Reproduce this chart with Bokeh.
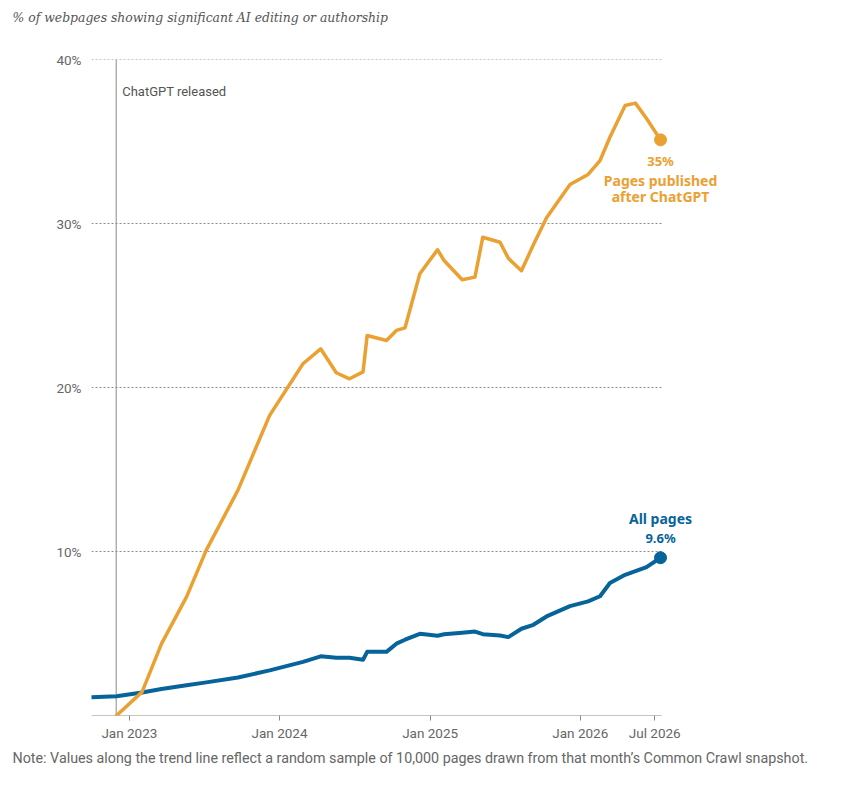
import numpy as np
import pandas as pd
from bokeh.plotting import figure
from bokeh.models import (ColumnDataSource, Range1d, FixedTicker, DatetimeTickFormatter,
                          PrintfTickFormatter, Span, Label, Title)
from bokeh.embed import file_html
from bokeh.resources import INLINE

# ---------------- data ----------------
dates = ["2022-10-01", "2022-12-01", "2023-02-01", "2023-03-20", "2023-05-20", "2023-07-07",
         "2023-09-22", "2023-12-08", "2024-02-27", "2024-04-10", "2024-05-18", "2024-06-19",
         "2024-07-22", "2024-08-01", "2024-09-17", "2024-10-11", "2024-11-01", "2024-12-07",
         "2025-01-19", "2025-02-04", "2025-03-20", "2025-04-20", "2025-05-09", "2025-06-20",
         "2025-07-10", "2025-08-11", "2025-09-09", "2025-10-11", "2025-12-07", "2026-01-20",
         "2026-02-18", "2026-03-14", "2026-04-20", "2026-05-15", "2026-06-11", "2026-07-15"]

all_pages = [1.12, 1.18, 1.40, 1.62, 1.84, 2.02,
             2.32, 2.75, 3.27, 3.61, 3.52, 3.52,
             3.40, 3.88, 3.88, 4.38, 4.62, 4.98,
             4.86, 4.95, 5.04, 5.12, 4.96, 4.88,
             4.78, 5.29, 5.53, 6.04, 6.67, 6.96,
             7.27, 8.08, 8.58, 8.80, 9.05, 9.62]

after_chatgpt = [np.nan, 0.0, 1.44, 4.37, 7.23, 10.08,
                 13.74, 18.30, 21.45, 22.36, 20.90, 20.53,
                 20.95, 23.17, 22.87, 23.48, 23.64, 26.94,
                 28.40, 27.74, 26.57, 26.73, 29.16, 28.86,
                 27.88, 27.12, 28.70, 30.35, 32.38, 32.99,
                 33.84, 35.26, 37.20, 37.34, 36.40, 35.10]

chatgpt_release = "2022-11-30"
x_tick_dates = ["2023-01-01", "2024-01-01", "2025-01-01", "2026-01-01", "2026-07-01"]
y_tick_values = [10, 20, 30, 40]
x_start, x_axis_end = "2022-10-01", "2026-07-18"   # visible axis extent
x_frame_end = "2027-03-15"                          # room on the right for end labels
y_start, y_end = 0, 40

title_text = "% of webpages showing significant AI editing or authorship"
note_text = ("Note: Values along the trend line reflect a random sample of 10,000 pages "
             "drawn from that month\u2019s Common Crawl snapshot.")
series_names = ["Pages published", "after ChatGPT", "All pages"]

ORANGE = "#EBA032"
BLUE = "#07649A"
GRAY_TEXT = "#666666"
GRID = "#8a8a8a"


def ms(d):
    return pd.Timestamp(d).value // 10**6


src = ColumnDataSource(dict(x=pd.to_datetime(dates), all=all_pages, after=after_chatgpt))

W, H = 835, 790
FRAME_L, FRAME_T, FRAME_R, FRAME_B = 91, 59, 760, 715

p = figure(width=W, height=H, x_axis_type="datetime",
           x_range=Range1d(ms(x_start), ms(x_frame_end)), y_range=Range1d(y_start, y_end),
           output_backend="svg", toolbar_location=None,
           min_border_left=FRAME_L, min_border_right=W - FRAME_R,
           min_border_top=FRAME_T, min_border_bottom=H - FRAME_B)
p.outline_line_color = None
p.background_fill_color = "white"
p.border_fill_color = "white"

TICK_FONT_SIZE = "13.5px"

# axes
p.xaxis.ticker = FixedTicker(ticks=[ms(d) for d in x_tick_dates])
fmt = "%b %Y"
p.xaxis.formatter = DatetimeTickFormatter(years=fmt, months=fmt, days=fmt, hours=fmt,
                                          hourmin=fmt, minutes=fmt, minsec=fmt, seconds=fmt,
                                          milliseconds=fmt, microseconds=fmt)
p.xaxis.axis_line_color = None
p.xaxis.major_tick_line_color = GRID
p.xaxis.major_tick_out = 5
p.xaxis.major_tick_in = 0
p.xaxis.minor_tick_line_color = None
p.xaxis.major_label_text_font = "Roboto"
p.xaxis.major_label_text_font_size = TICK_FONT_SIZE
p.xaxis.major_label_text_color = GRAY_TEXT
p.xaxis.major_label_standoff = 4

p.yaxis.ticker = FixedTicker(ticks=y_tick_values)
p.yaxis.formatter = PrintfTickFormatter(format="%d%%")
p.yaxis.axis_line_color = None
p.yaxis.major_tick_line_color = None
p.yaxis.minor_tick_line_color = None
p.yaxis.major_label_text_font = "Roboto"
p.yaxis.major_label_text_font_size = TICK_FONT_SIZE
p.yaxis.major_label_text_color = GRAY_TEXT
p.yaxis.major_label_standoff = 4

p.xgrid.grid_line_color = None
p.ygrid.grid_line_color = None

# gridlines and baseline limited to the data's time extent
n = len(y_tick_values)
p.segment(x0=[ms(x_start)] * n, x1=[ms(x_axis_end)] * n, y0=y_tick_values, y1=y_tick_values,
          line_color=GRID, line_dash="2 2", line_width=1, level="underlay")
p.segment(x0=[ms(x_start)], x1=[ms(x_axis_end)], y0=[y_start], y1=[y_start],
          line_color=GRID, line_width=1.2, level="underlay")

# ChatGPT release marker
p.add_layout(Span(location=ms(chatgpt_release), dimension="height",
                  line_color=GRID, line_width=1, level="underlay"))
p.add_layout(Label(x=ms(chatgpt_release), y=y_end, x_offset=6, y_offset=-32,
                   text="ChatGPT released", text_font="Roboto", text_font_size="13px",
                   text_color="#555555", text_align="left", text_baseline="middle"))

# lines
p.line("x", "all", source=src, line_color=BLUE, line_width=4, line_join="round", line_cap="round")
p.line("x", "after", source=src, line_color=ORANGE, line_width=3.5, line_join="round", line_cap="round")

last_x = ms(dates[-1])
p.scatter([last_x], [after_chatgpt[-1]], size=12, color=ORANGE)
p.scatter([last_x], [all_pages[-1]], size=12, color=BLUE)


def lab(y, txt, dy, color, size):
    p.add_layout(Label(x=last_x, y=y, y_offset=dy, text=txt, text_font="Noto Sans",
                       text_font_style="bold", text_font_size=size, text_color=color,
                       text_align="center", text_baseline="middle"))


lab(after_chatgpt[-1], f"{after_chatgpt[-1]:.0f}%", -21, ORANGE, "13px")
lab(after_chatgpt[-1], series_names[0], -41, ORANGE, "14px")
lab(after_chatgpt[-1], series_names[1], -57, ORANGE, "14px")
lab(all_pages[-1], series_names[2], 39, BLUE, "14px")
lab(all_pages[-1], f"{all_pages[-1]:.1f}%", 20, BLUE, "13px")

# title (with a blank spacer between it and the plot area) and note
p.add_layout(Title(text=" ", text_font_size="1px", standoff=30), "above")
p.add_layout(Title(text=title_text, align="left", offset=12 - FRAME_L,
                   text_font="DejaVu Serif", text_font_style="italic", text_font_size="12.4px",
                   text_color="#555555", standoff=4), "above")
p.add_layout(Title(text=note_text, align="left", offset=12 - FRAME_L,
                   text_font="Roboto", text_font_style="normal", text_font_size="14.3px",
                   text_color=GRAY_TEXT, standoff=8), "below")

open("out.html", "w").write(file_html(p, INLINE))
